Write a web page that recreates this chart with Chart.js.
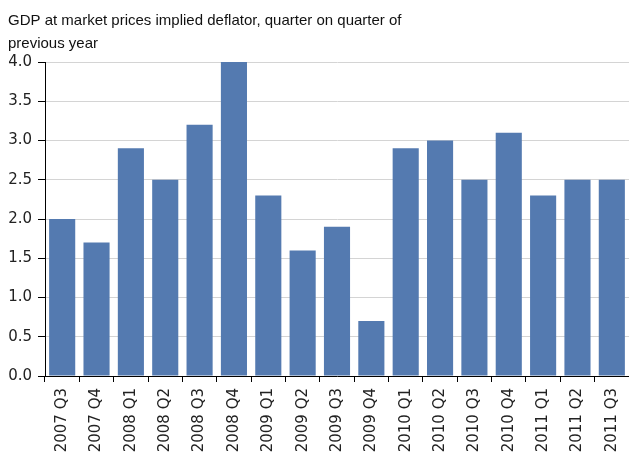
<!DOCTYPE html>
<html>
<head>
<meta charset="utf-8">
<script src="https://cdn.jsdelivr.net/npm/chart.js@4/dist/chart.umd.min.js"></script>
<style>
  html, body { margin: 0; padding: 0; background: #fff; }
  #wrap { position: relative; width: 629px; height: 461px; }
</style>
</head>
<body>
<div id="wrap"><canvas id="chart" width="629" height="461"></canvas></div>
<script>
/* ── Data ─────────────────────────────────────────────────────────────── */
const TITLE_LINES = ['GDP at market prices implied deflator, quarter on quarter of', 'previous year'];
const QUARTERS = [
  '2007 Q3', '2007 Q4',
  '2008 Q1', '2008 Q2', '2008 Q3', '2008 Q4',
  '2009 Q1', '2009 Q2', '2009 Q3', '2009 Q4',
  '2010 Q1', '2010 Q2', '2010 Q3', '2010 Q4',
  '2011 Q1', '2011 Q2', '2011 Q3',
];
const DEFLATOR = [2.0, 1.7, 2.9, 2.5, 3.2, 4.0, 2.3, 1.6, 1.9, 0.7, 2.9, 3.0, 2.5, 3.1, 2.3, 2.5, 2.5];
const Y_MIN  = 0;
const Y_MAX  = 4;
const Y_STEP = 0.5;

const BAR_COLOR  = '#547ab0';
const GRID_COLOR = '#d4d4d4';
const TEXT_COLOR = '#222';

new Chart(document.getElementById('chart').getContext('2d'), {
  type: 'bar',
  data: {
    labels: QUARTERS,
    datasets: [{
      data: DEFLATOR,
      backgroundColor: BAR_COLOR,
      borderWidth: 0,
      categoryPercentage: 1,
      barPercentage: 0.76,
    }],
  },
  options: {
    responsive: false,
    animation: false,
    layout: { padding: { left: 8, right: 0, top: 0, bottom: 0 } },
    plugins: {
      legend: { display: false },
      tooltip: { enabled: false },
      title: {
        display: true,
        text: TITLE_LINES,
        align: 'start',
        color: '#111',
        font: { family: 'Liberation Sans, Arial, sans-serif', size: 15, weight: 'normal', lineHeight: 1.5 },
        padding: { top: 10, bottom: 7 },
      },
    },
    scales: {
      x: {
        offset: true,
        grid: { offset: true, drawOnChartArea: false, tickLength: 6, tickColor: '#000' },
        border: { color: '#000', width: 1 },
        ticks: {
          color: TEXT_COLOR,
          minRotation: 90,
          maxRotation: 90,
          autoSkip: false,
          padding: 6,
          font: { family: 'DejaVu Sans, sans-serif', size: 15 },
        },
        // let the last bar run to the right edge, as in the source
        afterFit: s => { s.height = 85; s.paddingLeft = 0; s.paddingRight = 0; },
      },
      y: {
        min: Y_MIN,
        max: Y_MAX,
        grid: { color: GRID_COLOR, tickLength: 7, tickColor: '#000' },
        border: { color: '#000', width: 1 },
        ticks: {
          stepSize: Y_STEP,
          color: TEXT_COLOR,
          padding: 6,
          font: { family: 'DejaVu Sans, sans-serif', size: 15 },
          callback: v => v.toFixed(1),
        },
        afterFit: s => { s.width = 37; },
      },
    },
  },
});
</script>
</body>
</html>
